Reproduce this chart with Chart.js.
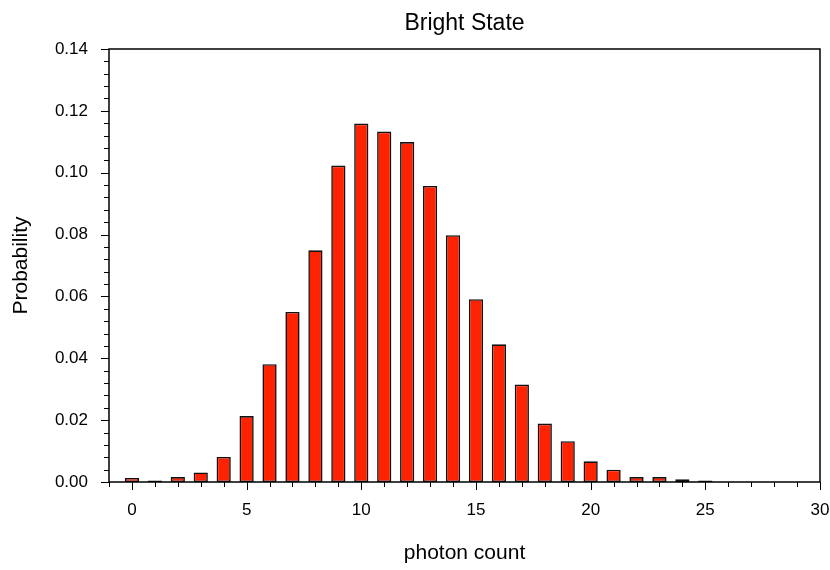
<!DOCTYPE html>
<html>
<head>
<meta charset="utf-8">
<script src="https://cdn.jsdelivr.net/npm/chart.js@4"></script>
<style>
  html, body { margin: 0; padding: 0; background: #fff; }
</style>
</head>
<body>
<canvas id="barchart" width="830" height="570"></canvas>
<script>
// photon count histogram
const photonCounts = [0, 1, 2, 3, 4, 5, 6, 7, 8, 9, 10, 11, 12, 13, 14, 15, 16, 17, 18, 19, 20, 21, 22, 23, 24, 25];
const probabilities = [0.0013, 0.0005, 0.0016, 0.0031, 0.0081, 0.0213, 0.0381, 0.0550, 0.0749, 0.1023,
    0.1159, 0.1133, 0.1099, 0.0957, 0.0798, 0.0591, 0.0445, 0.0315, 0.0189, 0.0132,
    0.0067, 0.0040, 0.0016, 0.0016, 0.0009, 0.0005];
const xTicks = [0, 5, 10, 15, 20, 25, 30];
const yTicks = [0, 0.02, 0.04, 0.06, 0.08, 0.10, 0.12, 0.14];
const xRange = [-1, 30];
const yRange = [0, 0.14];

const font = 'Liberation Sans, Arial, Helvetica, sans-serif';

// frame round the plot plus major/minor tick marks
const framePlugin = {
    id: 'frame',
    afterDraw(chart) {
        const { ctx, chartArea: a, scales } = chart;
        ctx.save();
        ctx.strokeStyle = '#000';
        ctx.lineWidth = 1;
        for (let v = xRange[0]; v <= xRange[1]; v++) {
            const px = Math.round(scales.x.getPixelForValue(v)) + 0.5;
            const len = v % 5 === 0 ? 8 : 5;
            ctx.beginPath();
            ctx.moveTo(px, a.bottom);
            ctx.lineTo(px, a.bottom + len);
            ctx.stroke();
        }
        for (let i = 0; i <= 35; i++) {
            const py = Math.round(scales.y.getPixelForValue(i * 0.004)) + 0.5;
            const len = i % 5 === 0 ? 8 : 5;
            ctx.beginPath();
            ctx.moveTo(a.left, py);
            ctx.lineTo(a.left - len, py);
            ctx.stroke();
        }
        ctx.lineWidth = 1.5;
        ctx.strokeRect(Math.round(a.left), Math.round(a.top), Math.round(a.right - a.left), Math.round(a.bottom - a.top));
        ctx.restore();
    }
};

const noSidePad = s => { s.paddingLeft = 0; s.paddingRight = 0; };

const ctx = document.getElementById('barchart').getContext('2d');
const barchart = new Chart(ctx, {
    type: 'bar',
    data: {
        datasets: [{
            label: 'Probability',
            data: photonCounts.map((c, i) => ({ x: c, y: probabilities[i] })),
            backgroundColor: '#ff2200',
            borderColor: '#111',
            borderWidth: 1.6,
            borderSkipped: false,
            barPercentage: 0.62,
            categoryPercentage: 1
        }]
    },
    options: {
        responsive: false,
        animation: false,
        layout: { padding: { top: 6, right: 10, bottom: 0, left: 4.5 } },
        plugins: {
            legend: { display: false },
            tooltip: { enabled: false }
        },
        scales: {
            x: {
                type: 'linear',
                min: xRange[0],
                max: xRange[1],
                offset: false,
                grid: { display: false, drawTicks: false, offset: false },
                border: { display: false },
                afterBuildTicks: s => { s.ticks = xTicks.map(v => ({ value: v })); },
                afterFit: s => { s.height = 570 - 482; noSidePad(s); },
                ticks: {
                    padding: 18,
                    color: '#000',
                    maxRotation: 0,
                    autoSkip: false,
                    font: { family: font, size: 17 }
                },
                title: {
                    display: true,
                    text: 'photon count',
                    color: '#000',
                    font: { family: font, size: 21 }
                }
            },
            xTop: {
                type: 'linear',
                position: 'top',
                min: xRange[0],
                max: xRange[1],
                grid: { display: false, drawTicks: false },
                border: { display: false },
                ticks: { display: false },
                afterFit: s => { s.height = 43; noSidePad(s); },
                title: {
                    display: true,
                    text: 'Bright State',
                    color: '#000',
                    font: { family: font, size: 23 }
                }
            },
            y: {
                min: yRange[0],
                max: yRange[1],
                grid: { display: false, drawTicks: false },
                border: { display: false },
                afterBuildTicks: s => { s.ticks = yTicks.map(v => ({ value: v })); },
                afterFit: s => { s.width = 104.5; s.paddingTop = 0; s.paddingBottom = 0; },
                ticks: {
                    padding: 21,
                    color: '#000',
                    autoSkip: false,
                    font: { family: font, size: 17 },
                    callback: v => v.toFixed(2)
                },
                title: {
                    display: true,
                    text: 'Probability',
                    color: '#000',
                    font: { family: font, size: 21 }
                }
            }
        }
    },
    plugins: [framePlugin]
});
</script>
</body>
</html>
